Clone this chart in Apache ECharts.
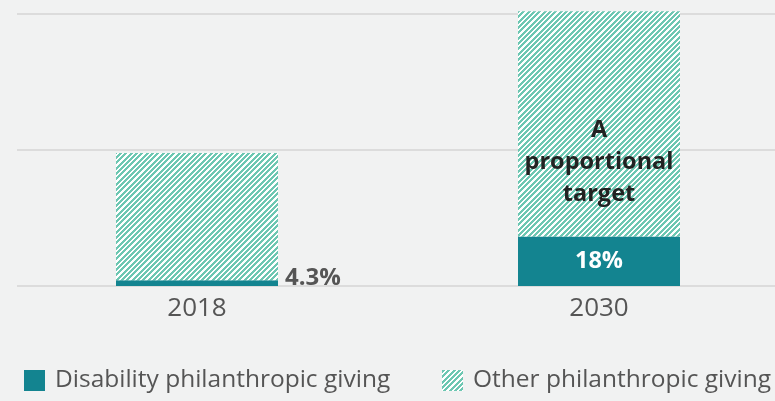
<!DOCTYPE html>
<html>
<head>
<meta charset="utf-8">
<script src="https://cdn.jsdelivr.net/npm/echarts@6/dist/echarts.min.js"></script>
<style>
  html, body { margin: 0; padding: 0; background: #f1f2f2; }
  #chart { width: 775px; height: 401px; }
</style>
</head>
<body>
<div id="chart"></div>
<script>
// chart data
const years = ["2018", "2030"];
const disability = [0.042, 0.364];
const other = [0.936, 1.656];
const disabilityLabels = ["4.3%", "18%"];
const otherLabels = ["", "A\nproportional\ntarget"];
const seriesNames = ["Disability philanthropic giving", "Other philanthropic giving"];

const TEAL = "#138490";
const STRIPE = "#6dc7b2";
const FONT = "Open Sans";

// "/" hatch tile: 3 stripes per 16px, drawn pixel by pixel so it stays crisp
function hatch() {
  const s = 16, n = 3;
  const c = document.createElement("canvas");
  c.width = s; c.height = s;
  const ctx = c.getContext("2d");
  ctx.fillStyle = "#ffffff";
  ctx.fillRect(0, 0, s, s);
  ctx.fillStyle = STRIPE;
  for (let y = 0; y < s; y++) {
    for (let x = 0; x < s; x++) {
      const phase = (((x + y + 0.5) * n) / s) % 1;
      if (phase < 0.58) ctx.fillRect(x, y, 1, 1);
    }
  }
  return c;
}
const hatchFill = { image: hatch(), repeat: "repeat" };

const chart = echarts.init(document.getElementById("chart"));

const legendBase = {
  bottom: 8,
  padding: 0,
  icon: "rect",
  itemWidth: 21,
  itemHeight: 21,
  textStyle: { color: "#555", fontSize: 24.5, fontFamily: FONT, padding: [0, 0, 0, 5] }
};

chart.setOption({
  backgroundColor: "#f1f2f2",
  animation: false,
  textStyle: { fontFamily: FONT },
  grid: [
    { left: 17, right: 0, top: 14, bottom: 115, outerBoundsMode: "none" },
    { left: -4, width: 804, top: 14, bottom: 115, outerBoundsMode: "none" }
  ],
  xAxis: [
    { gridIndex: 0, type: "value", show: false },
    {
      gridIndex: 1,
      type: "category",
      data: years,
      axisLine: { show: false },
      axisTick: { show: false },
      axisLabel: { color: "#555", fontSize: 26, fontFamily: FONT, margin: 10 }
    }
  ],
  yAxis: [
    {
      gridIndex: 0,
      type: "value",
      min: 0, max: 2, interval: 1,
      axisLabel: { show: false },
      axisLine: { show: false },
      axisTick: { show: false },
      splitLine: { lineStyle: { color: "#dcdcdc", width: 2 } }
    },
    { gridIndex: 1, type: "value", min: 0, max: 2, show: false, splitLine: { show: false } }
  ],
  legend: [
    Object.assign({}, legendBase, { left: 24, data: [seriesNames[0]] }),
    Object.assign({}, legendBase, { left: 442, data: [seriesNames[1]] })
  ],
  series: [
    {
      name: seriesNames[0],
      type: "bar",
      stack: "total",
      xAxisIndex: 1,
      yAxisIndex: 1,
      barWidth: 162,
      clip: false,
      itemStyle: { color: TEAL },
      data: disability.map((v, i) => ({
        value: v,
        label: i === 0
          ? { show: true, position: "right", distance: 7, offset: [0, -5],
              color: "#555", fontWeight: "bold", fontSize: 24 }
          : { show: true, position: "inside", color: "#fff", fontWeight: "bold", fontSize: 23.5 }
      })),
      label: { fontFamily: FONT, formatter: (p) => disabilityLabels[p.dataIndex] }
    },
    {
      name: seriesNames[1],
      type: "bar",
      stack: "total",
      xAxisIndex: 1,
      yAxisIndex: 1,
      barWidth: 162,
      clip: false,
      itemStyle: { color: hatchFill },
      data: other.map((v, i) => ({
        value: v,
        label: {
          show: otherLabels[i] !== "",
          position: "inside",
          offset: [0, 38],
          color: "#222",
          fontWeight: "bold",
          fontSize: 23.5,
          lineHeight: 32
        }
      })),
      label: { fontFamily: FONT, formatter: (p) => otherLabels[p.dataIndex] }
    }
  ]
});
</script>
</body>
</html>
